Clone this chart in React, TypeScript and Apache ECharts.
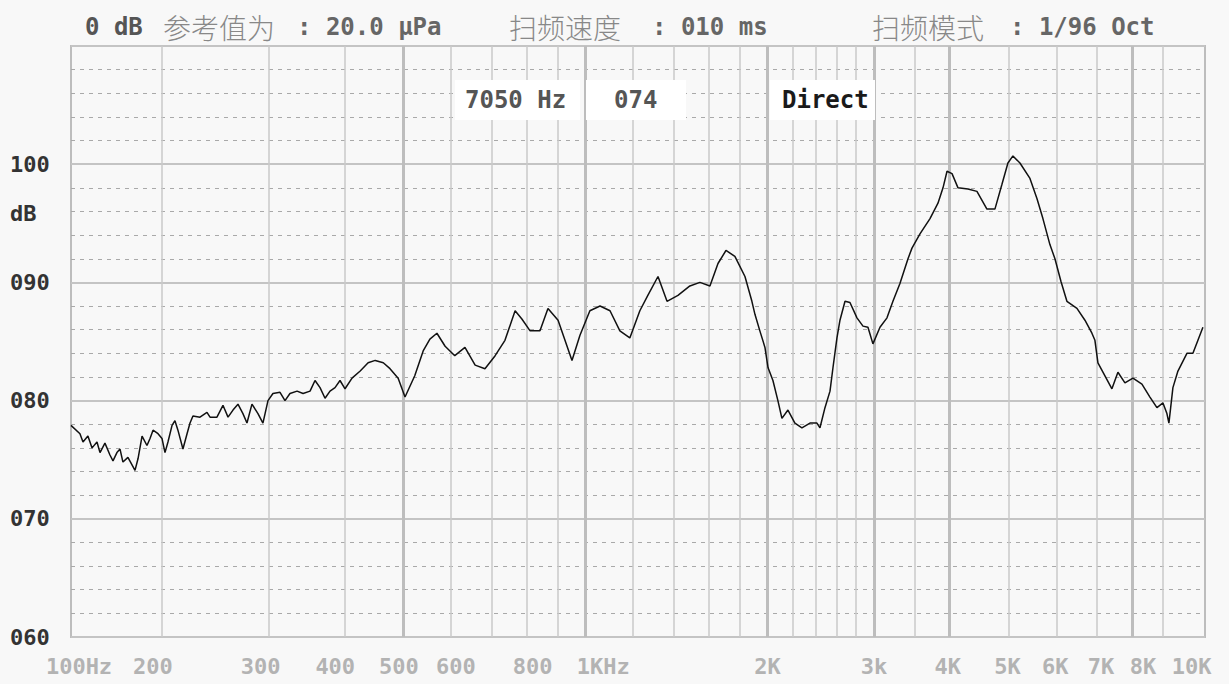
import React, { useEffect, useRef } from "react";
import * as echarts from "echarts";

// ---------- data ----------
const freqHz = [141.5,146.4,148.1,150.9,153.3,156.2,158.0,161.0,164.1,166.0,168.5,170.5,172.4,175.7,180.5,182.6,185.4,188.9,191.1,193.3,197.0,200.0,202.3,204.6,207.8,210.1,212.5,216.6,220.0,222.5,225.0,231.1,237.3,240.1,246.5,252.2,257.1,262.0,267.0,272.1,276.3,281.6,288.1,293.6,299.3,305.0,313.3,319.3,325.4,334.3,342.0,351.2,357.9,364.8,371.8,378.9,386.2,393.6,401.2,412,425,438,450,464,476,491,504,523,540,554,569,587,609,633,658,683,710,737,766,786,811,842,868,902,926,951,980,1018,1058,1099,1141,1185,1231,1269,1319,1365,1423,1489,1547,1607,1657,1708,1767,1836,1885,1907,1943,1981,2004,2042,2081,2113,2162,2220,2280,2351,2414,2442,2489,2537,2566,2605,2635,2686,2737,2811,2876,2931,2987,3068,3151,3223,3310,3413,3465,3572,3711,3825,3899,3959,4035,4128,4287,4436,4608,4750,4879,4991,5087,5224,5427,5573,5701,5855,5968,6105,6246,6489,6689,6869,6948,7028,7218,7412,7583,7788,8029,8308,8565,8796,9000,9136,9206,9347,9527,9858,10086,10280,10477];
const levelDb = [77.9,77.2,76.5,77.0,76.0,76.5,75.6,76.4,75.4,74.9,75.6,75.9,74.8,75.2,74.1,75.1,77.0,76.2,76.8,77.5,77.2,76.8,75.6,76.5,77.9,78.3,77.5,75.9,77.2,78.1,78.7,78.6,79.0,78.6,78.6,79.6,78.6,79.2,79.7,78.9,78.1,79.7,78.9,78.1,80.0,80.6,80.7,80.0,80.6,80.8,80.6,80.8,81.7,81.1,80.2,80.8,81.1,81.7,81.0,81.9,82.5,83.2,83.4,83.2,82.7,81.9,80.3,82.1,84.2,85.2,85.7,84.6,83.8,84.5,83.0,82.7,83.8,85.1,87.6,86.9,85.9,85.9,87.8,86.8,85.1,83.4,85.5,87.6,88.0,87.6,85.9,85.3,87.6,88.9,90.5,88.4,88.9,89.7,90.0,89.7,91.6,92.7,92.2,90.5,88.4,87.3,85.9,84.5,82.8,81.7,80.0,78.5,79.2,78.1,77.7,78.1,78.1,77.7,79.4,80.8,82.8,85.3,86.8,88.4,88.3,87.0,86.3,86.2,84.8,86.2,87.0,88.4,89.9,92.0,92.9,94.1,95.4,96.7,98.0,99.4,99.2,98.0,97.9,97.7,96.2,96.2,98.3,100.1,100.7,100.1,98.8,97.1,95.4,93.2,92.0,90.1,88.4,87.8,86.8,85.7,85.1,83.2,82.1,81.0,82.4,81.5,81.9,81.4,80.3,79.4,79.8,78.9,78.1,81.1,82.5,84.0,84.0,85.1,86.2];

const X_MIN = 141.5;
const X_MAX = 10560;
const Y_MIN = 60;
const Y_MAX = 110;

const gridFreqs = [200,300,400,500,600,700,800,900,1000,1200,1400,1600,1800,2000,2200,2400,2600,2800,3000,3500,4000,5000,6000,7000,8000,9000];
const boldGridFreqs = [500,1000,2000,3000,4000,8000];
const tickFreqs = [141.5,200,300,400,500,600,800,1000,2000,3000,4000,5000,6000,7000,8000,10000];
const tickLabels = ["100Hz","200","300","400","500","600","800","1KHz","2K","3k","4K","5K","6K","7K","8K","10K"];
// horizontal nudges of the printed tick labels, in pixels (layout only)
const tickLabelNudge = [8,-9,-8,-9,-4,5,6,18,0,0,-2,-1,-1,4,11,1];

const MONO = '"DejaVu Sans Mono", "Liberation Mono", monospace';
const CJK = '"Noto Sans CJK SC", sans-serif';

export default function App() {
  const ref = useRef<HTMLDivElement>(null);

  useEffect(() => {
    if (!ref.current) return;
    const chart = echarts.init(ref.current, undefined, { renderer: "svg" });

    const curve = freqHz.map((f, i) => [f, levelDb[i]]);

    const gridLines = gridFreqs.map((f) => {
      const bold = boldGridFreqs.indexOf(f) >= 0;
      return {
        xAxis: f,
        label: { show: false },
        lineStyle: { color: bold ? "#bdbdbd" : "#cacaca", width: bold ? 3 : 1.5, type: "solid" },
      };
    });

    const txt = (text: string, x: number, y: number, font: string, fill: string, align = "left") => ({
      type: "text",
      x,
      y,
      z: 100,
      silent: true,
      style: { text, font, fill, textAlign: align, textVerticalAlign: "middle" },
    });

    const box = (x: number, y: number, w: number, h: number) => ({
      type: "rect",
      z: 90,
      silent: true,
      shape: { x, y, width: w, height: h },
      style: { fill: "#ffffff" },
    });

    const numFont = `bold 24px ${MONO}`;
    const cjkFont = `300 28px ${CJK}`;

    const baseGraphic = [
      txt("0 dB", 85, 27, numFont, "#555"),
      txt("参考值为", 163, 27, cjkFont, "#888"),
      txt(": 20.0 μPa", 297, 27, numFont, "#666"),
      txt("扫频速度", 509, 27, cjkFont, "#888"),
      txt(": 010 ms", 652, 27, numFont, "#666"),
      txt("扫频模式", 872, 27, cjkFont, "#888"),
      txt(": 1/96 Oct", 1010, 27, numFont, "#666"),
      box(455, 80, 125, 40),
      box(586, 80, 100, 40),
      box(770, 80, 105, 40),
      txt("7050 Hz", 465, 100, numFont, "#555"),
      txt("074", 614, 100, numFont, "#555"),
      txt("Direct", 782, 100, numFont, "#1a1a1a"),
      txt("dB", 10, 213, `bold 22px ${MONO}`, "#333"),
    ];

    chart.setOption({
      animation: false,
      backgroundColor: "#f8f8f8",
      grid: {
        left: 71,
        right: 24,
        top: 46,
        bottom: 47,
        show: true,
        borderColor: "#bdbdbd",
        borderWidth: 2,
        backgroundColor: "transparent",
      },
      xAxis: {
        type: "log",
        logBase: 10,
        min: X_MIN,
        max: X_MAX,
        axisLine: { show: false },
        axisTick: { show: false },
        axisLabel: { show: false },
        splitLine: { show: false },
      },
      yAxis: {
        type: "value",
        min: Y_MIN,
        max: Y_MAX,
        interval: 10,
        axisLine: { show: false },
        axisTick: { show: false },
        axisLabel: {
          formatter: (v: number) => (v >= Y_MAX ? "" : String(v).padStart(3, "0")),
          align: "left",
          margin: 61,
          fontFamily: MONO,
          fontWeight: "bold",
          fontSize: 22,
          color: "#333",
        },
        splitLine: { show: true, lineStyle: { color: "#c4c4c4", width: 2 } },
        minorTick: { show: false, splitNumber: 5 },
        minorSplitLine: { show: true, lineStyle: { color: "#a9a9a9", width: 1, type: [4, 5] } },
      },
      series: [
        {
          type: "line",
          z: 1,
          data: [[X_MIN, Y_MIN]],
          symbol: "none",
          lineStyle: { width: 0 },
          silent: true,
          markLine: {
            silent: true,
            symbol: ["none", "none"],
            animation: false,
            label: { show: false },
            data: gridLines,
          },
        },
        {
          type: "line",
          z: 5,
          data: curve,
          symbol: "none",
          smooth: false,
          lineStyle: { color: "#111", width: 1.5 },
        },
      ],
      graphic: baseGraphic,
    });

    // x-axis labels positioned through the log scale of the x axis
    const labelGraphic = tickFreqs.map((f, i) => {
      const px = chart.convertToPixel({ xAxisIndex: 0 }, f) as number;
      return txt(tickLabels[i], px + tickLabelNudge[i], 666, `bold 22px ${MONO}`, "#b3b3b3", "center");
    });
    chart.setOption({ graphic: baseGraphic.concat(labelGraphic) }, { replaceMerge: ["graphic"] });

    return () => chart.dispose();
  }, []);

  return (
    <div
      ref={ref}
      style={{ position: "absolute", left: 0, top: 0, width: 1229, height: 684 }}
    />
  );
}
